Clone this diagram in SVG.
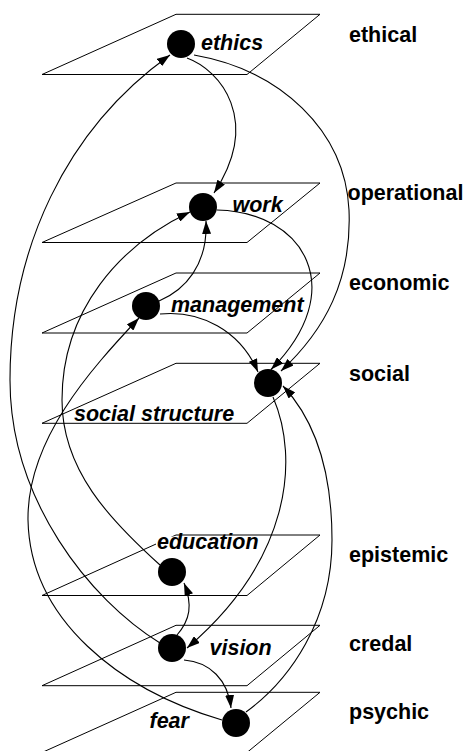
<svg xmlns="http://www.w3.org/2000/svg" width="470" height="751" viewBox="0 0 470 751">
<style>
.plane{fill:none;stroke:#000;stroke-width:1}
.edge{fill:none;stroke:#000;stroke-width:1.1;marker-end:url(#ah)}
.node{fill:#000}
.nl{font-family:"Liberation Sans",Arial,sans-serif;font-size:21.5px;font-weight:bold;font-style:italic;fill:#000}
.ll{font-family:"Liberation Sans",Arial,sans-serif;font-size:21.5px;font-weight:bold;fill:#000}
</style>
<defs>
<marker id="ah" markerUnits="userSpaceOnUse" markerWidth="13" markerHeight="9" refX="13" refY="4.5" orient="auto"><path d="M0,0 L13,4.5 L0,9 z" fill="#000"/></marker>
</defs>
<g id="planes">
<polygon id="plane-ethical" class="plane" points="176,14.3 320,14.3 247,74.5 42,74.5"/>
<polygon id="plane-operational" class="plane" points="176,183 320,183 247,242.5 42,242.5"/>
<polygon id="plane-economic" class="plane" points="176,273 320,273 247,333 42,333"/>
<polygon id="plane-social" class="plane" points="176,363.3 320,363.3 247,423.3 42,423.3"/>
<polygon id="plane-epistemic" class="plane" points="176,535 320,535 247,595.5 42,595.5"/>
<polygon id="plane-credal" class="plane" points="176,625.3 320,625.3 247,685.7 42,685.7"/>
<polygon id="plane-psychic" class="plane" points="176,692.3 320,692.3 247,752.5 42,752.5"/>
</g>
<g id="connectors">
<path class="edge" d="M187,58 C220,70 262,120 214,193"/>
<path class="edge" d="M194,55 C280,70 345,130 349,210 C352,280 325,330 281,371"/>
<path class="edge" d="M217,210 C305,212 350,290 271,369.5"/>
<path class="edge" d="M160,314 C200,310 240,330 258,372"/>
<path class="edge" d="M159,301 C185,290 208,265 206,221"/>
<path class="edge" d="M160,565 C110,520 62,470 62,400 C62,310 120,245 190,212"/>
<path class="edge" d="M160,643 C90,600 10,500 10,380 C10,250 65,130 170,55"/>
<path class="edge" d="M222,720 C120,690 30,620 28,520 C27,440 90,370 139,318"/>
<path class="edge" d="M273,397 C300,460 290,560 187,648"/>
<path class="edge" d="M246,712 C290,680 332,620 332,540 C332,470 315,420 283,386"/>
<path class="edge" d="M177,635 C190,620 193,605 184,583"/>
<path class="edge" d="M184,660 C210,662 228,680 231,708"/>
</g>
<rect x="156" y="536.5" width="104" height="14" fill="#fff"/>
<g id="ethics"><circle class="node" cx="181" cy="44" r="14"/><text class="nl" x="201" y="50">ethics</text></g>
<g id="work"><circle class="node" cx="203" cy="207" r="14"/><text class="nl" x="232.5" y="211.5">work</text></g>
<g id="management"><circle class="node" cx="146" cy="306" r="14"/><text class="nl" x="171" y="311.5">management</text></g>
<g id="social-structure"><circle class="node" cx="268" cy="383" r="14"/><text class="nl" x="74" y="421">social structure</text></g>
<g id="education"><circle class="node" cx="172" cy="572" r="14"/><text class="nl" x="157" y="549">education</text></g>
<g id="vision"><circle class="node" cx="172" cy="648" r="14"/><text class="nl" x="209.5" y="655">vision</text></g>
<g id="fear"><circle class="node" cx="236" cy="723" r="14"/><text class="nl" x="149.5" y="728">fear</text></g>
<g id="levels">
<text class="ll" x="349" y="41.7">ethical</text>
<text class="ll" x="347.5" y="199.5">operational</text>
<text class="ll" x="349" y="290">economic</text>
<text class="ll" x="349" y="381">social</text>
<text class="ll" x="349" y="561.7">epistemic</text>
<text class="ll" x="349" y="651">credal</text>
<text class="ll" x="349" y="719">psychic</text>
</g>
</svg>
